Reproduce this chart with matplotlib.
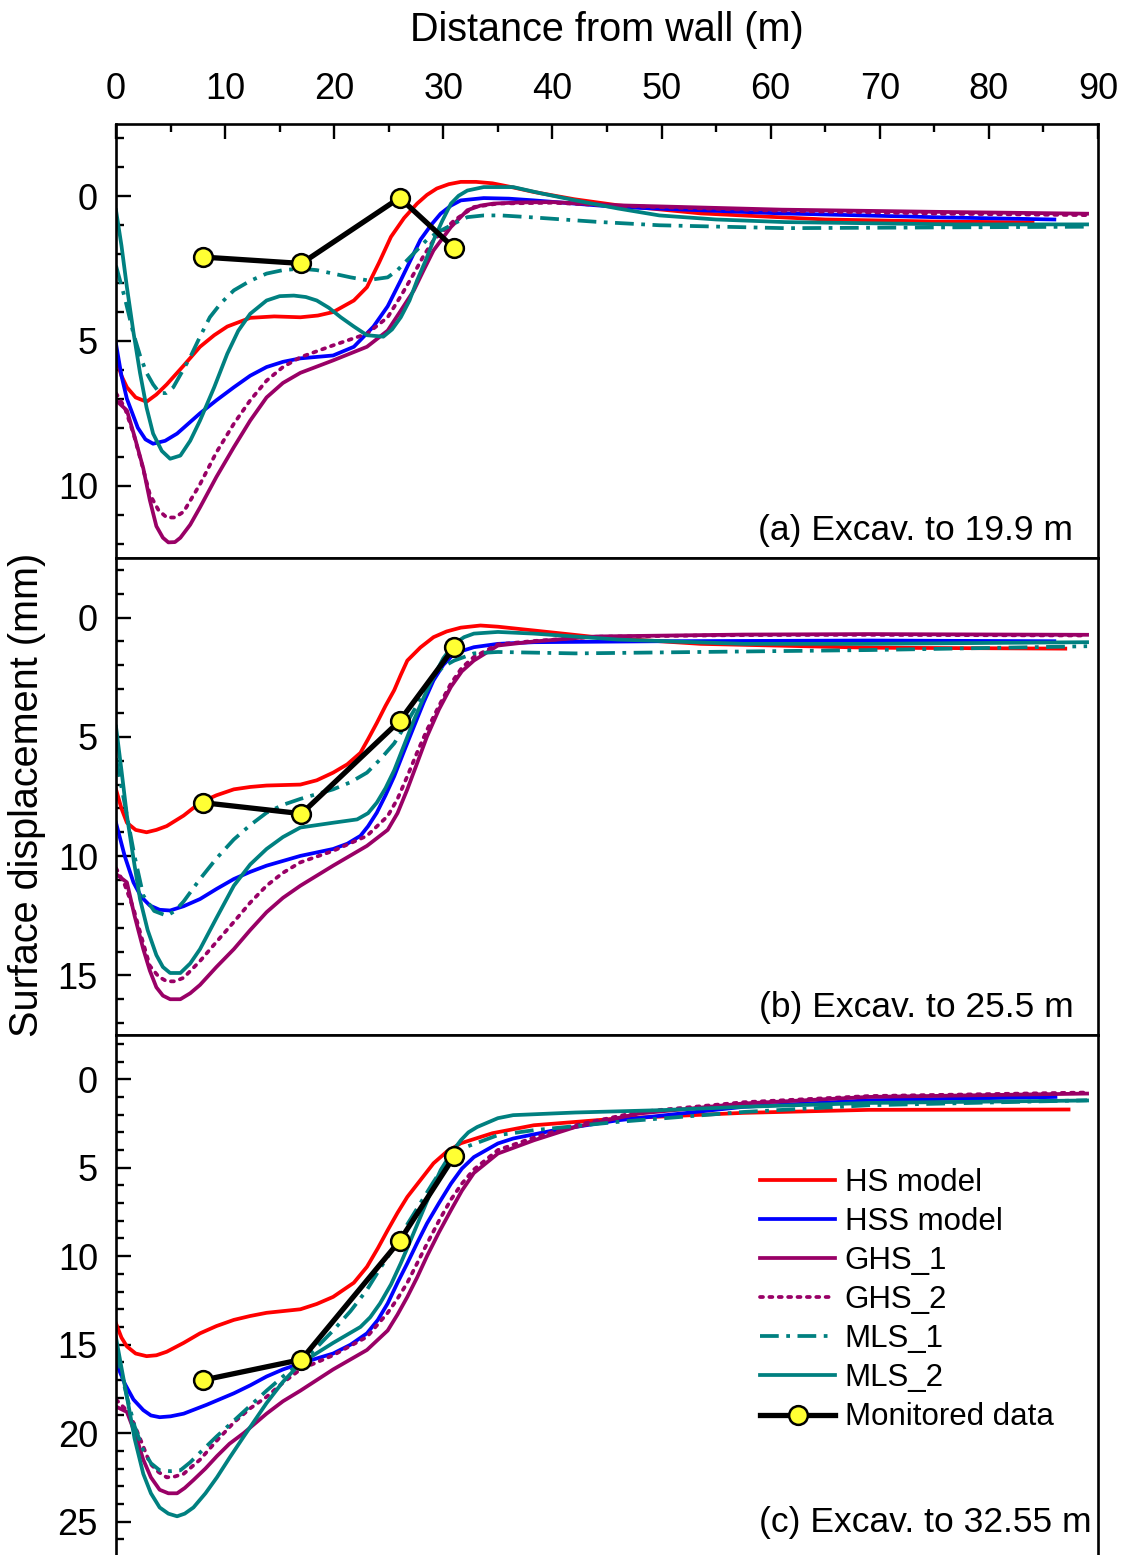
import matplotlib
matplotlib.use("Agg")
import matplotlib.pyplot as plt
from matplotlib.ticker import MultipleLocator

plt.rcParams['font.family'] = ['Liberation Sans', 'DejaVu Sans']

# ---------------- data: surface displacement (mm) vs distance from wall (m)
models = ["HS model", "HSS model", "GHS_1", "GHS_2", "MLS_1", "MLS_2"]

# (a) Excavation to 19.9 m
hs_a_x = [0, 0.5, 1, 1.8, 2.8, 3.7, 4.65, 6.2, 7.7, 9, 10.2, 12.3, 14.5, 16.9, 18.5, 19.9, 21.8, 23, 24.1, 25.2, 26.4, 27.6, 28.5, 29.4, 30.5, 31.6, 33, 34.5, 36.5, 38.3, 42, 46, 53.6, 65, 75, 84]
hs_a_y = [5.6, 6.2, 6.6, 6.95, 7.1, 6.85, 6.5, 5.85, 5.2, 4.8, 4.5, 4.2, 4.15, 4.18, 4.12, 4.0, 3.6, 3.14, 2.3, 1.4, 0.75, 0.25, -0.05, -0.27, -0.42, -0.5, -0.5, -0.45, -0.3, -0.15, 0.1, 0.31, 0.59, 0.8, 0.87, 0.9]
hss_a_x = [0, 0.5, 1, 2, 2.7, 3.4, 4.5, 5.6, 7.7, 9.2, 10.8, 12.3, 13.8, 15.3, 16.9, 19.9, 21.8, 23.6, 24.9, 26.1, 27.9, 28.9, 29.75, 30.7, 31.6, 33.7, 36, 38.3, 46, 61, 76, 86]
hss_a_y = [5.1, 6.2, 7.0, 8.0, 8.4, 8.55, 8.45, 8.2, 7.5, 7.05, 6.6, 6.2, 5.9, 5.72, 5.6, 5.5, 5.2, 4.5, 3.8, 2.9, 1.5, 0.98, 0.6, 0.32, 0.14, 0.06, 0.08, 0.14, 0.37, 0.59, 0.73, 0.8]
ghs1_a_x = [0, 1, 1.7, 2.5, 3.1, 3.7, 4.3, 4.8, 5.4, 5.9, 6.8, 7.7, 9.2, 10.8, 12.3, 13.8, 15.3, 16.9, 19.9, 23, 24.9, 26.1, 27.3, 28.2, 29.1, 30.7, 32.2, 33.4, 34.6, 37, 40, 46, 61, 76, 89]
ghs1_a_y = [7.05, 7.4, 8.3, 9.4, 10.5, 11.4, 11.8, 11.96, 11.95, 11.8, 11.35, 10.75, 9.7, 8.67, 7.75, 6.95, 6.45, 6.1, 5.67, 5.2, 4.64, 3.95, 3.25, 2.55, 1.87, 1.06, 0.48, 0.32, 0.25, 0.21, 0.2, 0.31, 0.46, 0.54, 0.6]
ghs2_a_x = [0, 0.8, 1.6, 2.4, 3.1, 3.9, 4.65, 5.4, 6.2, 7.7, 9.2, 10.8, 12.3, 13.8, 15.3, 16.9, 19.9, 23, 24.9, 26.1, 27.3, 28.2, 29.1, 31, 32.8, 35, 40, 46, 61, 76, 89]
ghs2_a_y = [6.8, 7.3, 8.2, 9.3, 10.3, 10.85, 11.1, 11.1, 10.9, 9.95, 8.85, 7.86, 7.05, 6.37, 5.9, 5.56, 5.15, 4.75, 4.18, 3.45, 2.67, 2.05, 1.52, 0.83, 0.37, 0.25, 0.22, 0.33, 0.5, 0.6, 0.65]
mls1_a_x = [0, 0.8, 1.6, 2.2, 2.8, 3.4, 4.0, 4.6, 5.25, 6.0, 6.8, 7.7, 8.6, 9.6, 10.8, 12.3, 13.8, 15.3, 16.9, 18.4, 19.9, 21.5, 23, 24.9, 25.8, 26.7, 27.6, 28.5, 29.4, 30.4, 31.3, 32.2, 33.7, 35.3, 38.3, 44, 49.8, 61.3, 89]
mls1_a_y = [2.4, 3.5, 4.75, 5.5, 6.1, 6.5, 6.8, 6.8, 6.6, 6.1, 5.56, 4.85, 4.18, 3.7, 3.25, 2.92, 2.67, 2.55, 2.5, 2.55, 2.67, 2.8, 2.9, 2.8, 2.55, 2.2, 1.85, 1.5, 1.26, 1.06, 0.88, 0.72, 0.66, 0.66, 0.73, 0.88, 1.0, 1.1, 1.05]
mls2_a_x = [0, 0.5, 1, 1.6, 2.2, 2.8, 3.4, 4.2, 4.96, 5.9, 6.8, 7.7, 9.0, 10.2, 11.2, 12.3, 13.8, 15.0, 16.3, 17.4, 18.4, 19.5, 20.6, 21.8, 23, 24.5, 25.3, 26.1, 26.9, 27.6, 28.4, 29.1, 29.9, 30.7, 31.4, 32.2, 33.7, 36.4, 39, 42.1, 46, 49.8, 55, 61.3, 76.6, 89]
mls2_a_y = [0.48, 1.7, 3.14, 4.7, 6.1, 7.3, 8.2, 8.8, 9.07, 8.96, 8.45, 7.75, 6.6, 5.44, 4.65, 4.06, 3.6, 3.45, 3.43, 3.48, 3.6, 3.85, 4.18, 4.5, 4.8, 4.85, 4.6, 4.18, 3.6, 2.9, 2.2, 1.52, 0.85, 0.25, -0.02, -0.2, -0.32, -0.32, -0.1, 0.14, 0.42, 0.66, 0.8, 0.89, 0.97, 0.97]

# (b) Excavation to 25.5 m
hs_b_x = [0, 0.5, 1, 1.8, 2.8, 3.7, 4.65, 6.2, 7.7, 9.2, 10.8, 12.3, 13.8, 16.9, 18.4, 19.9, 21.2, 22.4, 23.1, 23.9, 24.7, 25.5, 26.1, 26.7, 27.9, 29.1, 30.3, 31.6, 33.4, 35, 38.3, 44, 53.6, 69, 87]
hs_b_y = [7.2, 8.0, 8.6, 8.9, 9.0, 8.9, 8.74, 8.3, 7.76, 7.45, 7.2, 7.1, 7.04, 7.0, 6.82, 6.5, 6.15, 5.67, 5.1, 4.42, 3.7, 3.04, 2.4, 1.8, 1.25, 0.82, 0.58, 0.42, 0.33, 0.38, 0.54, 0.82, 1.1, 1.26, 1.3]
hss_b_x = [0, 0.8, 1.6, 2.3, 3.1, 4.0, 4.96, 6.2, 7.7, 9.2, 10.8, 12.3, 13.8, 16.9, 19.9, 21.2, 22.4, 23.1, 23.9, 24.7, 25.5, 26.4, 27.3, 28.2, 29.1, 30.0, 31, 32.8, 35, 38.3, 49.8, 69, 86]
hss_b_y = [8.6, 10.0, 11.1, 11.7, 12.07, 12.25, 12.28, 12.1, 11.8, 11.38, 10.96, 10.66, 10.4, 9.99, 9.7, 9.48, 9.15, 8.75, 8.18, 7.45, 6.65, 5.6, 4.57, 3.55, 2.63, 1.98, 1.5, 1.24, 1.1, 1.03, 0.99, 0.96, 0.99]
ghs1_b_x = [0, 1, 1.7, 2.5, 3.1, 3.7, 4.3, 4.96, 5.9, 6.8, 7.7, 9.2, 10.8, 12.3, 13.8, 15.3, 16.9, 19.9, 23, 24.9, 25.8, 26.7, 27.6, 28.5, 29.6, 30.7, 31.7, 32.8, 35, 38.3, 44, 57.5, 69, 89]
ghs1_b_y = [10.75, 11.1, 12.5, 13.9, 14.8, 15.5, 15.85, 16.0, 16.0, 15.75, 15.4, 14.65, 13.9, 13.1, 12.35, 11.75, 11.24, 10.4, 9.57, 8.9, 8.2, 7.2, 6.1, 4.99, 3.85, 2.9, 2.25, 1.8, 1.17, 1.0, 0.79, 0.71, 0.69, 0.72]
ghs2_b_x = [0, 0.8, 1.6, 2.4, 3.1, 3.9, 4.65, 5.4, 6.2, 7.7, 9.2, 10.8, 12.3, 13.8, 15.3, 16.9, 19.9, 23, 24.9, 25.8, 26.7, 27.6, 28.5, 29.6, 30.7, 31.7, 32.8, 35, 38.3, 44, 57.5, 69, 89]
ghs2_b_y = [10.5, 11.2, 12.2, 13.5, 14.6, 15.05, 15.25, 15.25, 15.1, 14.4, 13.6, 12.76, 11.95, 11.24, 10.7, 10.26, 9.78, 9.15, 8.32, 7.6, 6.65, 5.65, 4.71, 3.7, 2.76, 2.1, 1.65, 1.12, 0.98, 0.8, 0.73, 0.72, 0.75]
mls1_b_x = [0, 0.5, 1, 1.7, 2.5, 3.5, 4.65, 5.4, 6.2, 7.7, 9.2, 10.8, 12.3, 13.8, 15.3, 16.9, 19.9, 21.5, 23, 24.2, 25.5, 26.4, 27.3, 28.2, 29.1, 30, 31, 32.8, 35, 42.1, 53.6, 69, 89]
mls1_b_y = [5.9, 7.1, 8.3, 10.0, 11.65, 12.3, 12.5, 12.3, 11.9, 10.96, 10.1, 9.3, 8.7, 8.18, 7.85, 7.6, 7.2, 6.9, 6.5, 5.95, 5.27, 4.6, 3.9, 3.15, 2.49, 2.05, 1.8, 1.5, 1.44, 1.5, 1.44, 1.36, 1.2]
mls2_b_x = [0, 0.5, 1, 1.6, 2.2, 2.9, 3.7, 4.3, 4.96, 5.9, 6.8, 7.7, 9.2, 10.8, 12.3, 13.8, 15.3, 16.9, 19.9, 22.1, 23.1, 23.9, 24.7, 25.5, 26.4, 27.3, 28.2, 29.1, 30.0, 31, 31.9, 32.8, 35, 38.3, 46, 57.5, 69, 89]
mls2_b_y = [4.57, 6.4, 8.3, 10.1, 11.8, 13.1, 14.15, 14.65, 14.9, 14.9, 14.5, 13.9, 12.6, 11.24, 10.35, 9.7, 9.2, 8.8, 8.6, 8.46, 8.2, 7.76, 7.15, 6.4, 5.35, 4.3, 3.35, 2.49, 1.7, 1.1, 0.82, 0.67, 0.6, 0.67, 0.92, 1.1, 1.1, 1.03]

# (c) Excavation to 32.55 m
hs_c_x = [0, 0.5, 1, 1.8, 2.8, 3.7, 4.65, 6.2, 7.7, 9.2, 10.8, 12.3, 13.8, 16.9, 18.4, 19.9, 21.8, 23, 24, 24.9, 25.8, 26.7, 27.9, 29.1, 30.3, 31.6, 34.5, 38.3, 46, 57.5, 69, 87.3]
hs_c_y = [13.8, 14.6, 15.1, 15.5, 15.65, 15.6, 15.4, 14.9, 14.36, 13.95, 13.6, 13.38, 13.2, 13.0, 12.7, 12.3, 11.5, 10.6, 9.55, 8.53, 7.55, 6.65, 5.7, 4.75, 4.1, 3.62, 3.05, 2.6, 2.22, 1.9, 1.73, 1.71]
hss_c_x = [0, 0.8, 1.6, 2.5, 3.2, 4.0, 5.0, 6.2, 8.3, 10.8, 12.3, 13.8, 15.3, 16.9, 19.9, 21.5, 23, 24, 24.9, 25.8, 26.7, 27.6, 28.5, 29.6, 30.7, 31.7, 32.8, 35, 36.4, 40.2, 46, 57.5, 69, 86.1]
hss_c_y = [16.0, 17.2, 18.1, 18.7, 19.0, 19.1, 19.05, 18.9, 18.4, 17.75, 17.3, 16.8, 16.4, 16.06, 15.5, 15.0, 14.36, 13.6, 12.67, 11.5, 10.4, 9.25, 8.15, 7.0, 5.9, 5.05, 4.4, 3.63, 3.35, 2.88, 2.32, 1.56, 1.19, 1.0]
ghs1_c_x = [0, 1, 1.8, 2.5, 3.2, 4.0, 4.8, 5.6, 6.3, 7.1, 8.2, 9.25, 10.4, 11.7, 13.8, 15.3, 16.9, 19.9, 23, 24.9, 25.8, 26.7, 27.6, 28.5, 29.6, 30.7, 31.7, 32.8, 35, 38.3, 42.1, 47.9, 57.5, 69, 89]
ghs1_c_y = [18.5, 18.8, 20.1, 21.5, 22.5, 23.2, 23.4, 23.4, 23.1, 22.65, 22.0, 21.3, 20.6, 20.0, 18.9, 18.2, 17.6, 16.4, 15.3, 14.2, 13.3, 12.3, 11.2, 10.0, 8.65, 7.4, 6.3, 5.3, 4.2, 3.45, 2.7, 1.94, 1.37, 1.0, 0.81]
ghs2_c_x = [0, 0.8, 1.6, 2.4, 3.1, 3.9, 4.65, 5.4, 6.2, 7.7, 9.2, 10.8, 12.3, 13.8, 15.3, 16.9, 19.9, 23, 24.9, 25.8, 26.7, 27.6, 28.5, 29.6, 30.7, 31.7, 32.8, 35, 38.3, 42.1, 47.9, 57.5, 69, 89]
ghs2_c_y = [18.1, 18.6, 19.4, 20.6, 21.7, 22.2, 22.5, 22.45, 22.3, 21.5, 20.45, 19.4, 18.6, 17.95, 17.15, 16.4, 15.6, 14.56, 13.2, 12.4, 11.5, 10.4, 9.3, 8.0, 6.8, 5.9, 5.1, 4.0, 3.3, 2.6, 1.85, 1.3, 0.95, 0.75]
mls1_c_x = [0, 0.5, 1, 1.7, 2.5, 3.2, 4.0, 5.0, 5.9, 6.8, 7.7, 9.2, 10.8, 12.3, 13.8, 15.3, 16.9, 18.4, 19.9, 21.5, 23, 24.2, 25.5, 26.7, 27.9, 29, 30, 31.1, 32.2, 35, 38.3, 46, 57.5, 69, 89]
mls1_c_y = [15.3, 16.6, 17.95, 19.6, 20.96, 21.7, 22.1, 22.15, 22.1, 21.65, 21.1, 20.2, 19.3, 18.45, 17.6, 16.8, 16.06, 15.15, 14.2, 13.1, 11.9, 10.7, 9.47, 8.2, 7.0, 5.9, 4.95, 4.3, 3.8, 3.16, 2.88, 2.41, 1.85, 1.47, 1.19]
mls2_c_x = [0, 0.5, 1, 1.7, 2.5, 3.2, 4.0, 4.8, 5.6, 6.3, 7.1, 8.2, 9.25, 10.4, 11.7, 13.8, 15.3, 16.9, 19.9, 22.4, 23.3, 24.2, 25.2, 26.1, 27, 27.9, 28.8, 29.75, 30.7, 31.6, 32.3, 33.1, 35, 36.4, 42.1, 49.8, 57.5, 69, 89]
mls2_c_y = [14.6, 16.3, 17.95, 20.3, 22.3, 23.4, 24.2, 24.55, 24.7, 24.55, 24.2, 23.4, 22.5, 21.4, 20.2, 18.3, 17.1, 16.06, 14.9, 14.0, 13.45, 12.67, 11.6, 10.4, 9.1, 7.78, 6.45, 5.14, 4.2, 3.45, 3.0, 2.7, 2.2, 2.03, 1.88, 1.75, 1.56, 1.34, 1.2]

# monitored settlement points
mon_x = [8, 17, 26, 31]
mon_a = [2.1, 2.32, 0.05, 1.79]
mon_b = [7.76, 8.22, 4.33, 1.24]
mon_c = [17.0, 15.84, 9.13, 4.35]

panel_titles = ["(a) Excav. to 19.9 m", "(b) Excav. to 25.5 m", "(c) Excav. to 32.55 m"]
y_limits = [(12.5, -2.5), (17.5, -2.5), (27.0, -2.5)]

# ---------------- styles
RED = "#ff0000"
BLUE = "#0000ff"
PURPLE = "#990066"
TEAL = "#008080"
LW = 2.7
styles = [
    dict(color=RED, lw=LW, ls="-"),
    dict(color=BLUE, lw=LW, ls="-"),
    dict(color=PURPLE, lw=LW, ls="-"),
    dict(color=PURPLE, lw=LW, ls=(0, (0.8, 1.7)), dash_capstyle="round"),
    dict(color=TEAL, lw=LW, ls=(0, (5, 2, 1, 2))),
    dict(color=TEAL, lw=LW, ls="-"),
]

panels = [
    [(hs_a_x, hs_a_y), (hss_a_x, hss_a_y), (ghs1_a_x, ghs1_a_y), (ghs2_a_x, ghs2_a_y), (mls1_a_x, mls1_a_y), (mls2_a_x, mls2_a_y)],
    [(hs_b_x, hs_b_y), (hss_b_x, hss_b_y), (ghs1_b_x, ghs1_b_y), (ghs2_b_x, ghs2_b_y), (mls1_b_x, mls1_b_y), (mls2_b_x, mls2_b_y)],
    [(hs_c_x, hs_c_y), (hss_c_x, hss_c_y), (ghs1_c_x, ghs1_c_y), (ghs2_c_x, ghs2_c_y), (mls1_c_x, mls1_c_y), (mls2_c_x, mls2_c_y)],
]
monitored = [mon_a, mon_b, mon_c]

W, H = 1122, 1555
fig = plt.figure(figsize=(W / 100, H / 100), dpi=100)

left, right = 116 / W, 1098 / W
edges_px = [124, 558, 1035, 1557]
axes = []
for i in range(3):
    top = 1 - edges_px[i] / H
    bot = 1 - edges_px[i + 1] / H
    ax = fig.add_axes([left, bot, right - left, top - bot])
    axes.append(ax)

TICK_FS = 26
for i, ax in enumerate(axes):
    for (x, y), name, st in zip(panels[i], models, styles):
        ax.plot(x, y, label=name, solid_joinstyle="round", **st)
    ax.plot(mon_x, monitored[i], color="black", lw=3.8, marker="o", ms=13.5,
            mfc="#ffff33", mec="black", mew=1.8, label="Monitored data", zorder=5)

    ax.set_xlim(0, 90)
    ax.set_ylim(*y_limits[i])
    ax.yaxis.set_major_locator(MultipleLocator(5))
    ax.yaxis.set_minor_locator(MultipleLocator(1))
    ax.tick_params(axis="y", which="both", direction="in", left=True, right=False,
                   labelsize=TICK_FS, pad=13, width=1.7)
    ax.tick_params(axis="y", which="major", length=11)
    ax.tick_params(axis="y", which="minor", length=6)
    for sp in ax.spines.values():
        sp.set_linewidth(1.9)

    if i == 0:
        ax.xaxis.set_major_locator(MultipleLocator(10))
        ax.xaxis.set_minor_locator(MultipleLocator(5))
        ax.tick_params(axis="x", which="both", direction="in", top=True, bottom=False,
                       labeltop=True, labelbottom=False, labelsize=TICK_FS, pad=12.5, width=1.7)
        ax.tick_params(axis="x", which="major", length=11)
        ax.tick_params(axis="x", which="minor", length=6)
    else:
        ax.tick_params(axis="x", which="both", top=False, bottom=False,
                       labeltop=False, labelbottom=False)

    ax.spines["bottom"].set_visible(i < 2)

PANEL_FS = 25.5
axes[0].text(0.975, 0.063, panel_titles[0], transform=axes[0].transAxes,
             ha="right", va="center", fontsize=PANEL_FS)
axes[1].text(0.975, 0.058, panel_titles[1], transform=axes[1].transAxes,
             ha="right", va="center", fontsize=PANEL_FS)
axes[2].text(0.993, 0.067, panel_titles[2], transform=axes[2].transAxes,
             ha="right", va="center", fontsize=PANEL_FS)

fig.text(607 / W, 1 - 30 / H, "Distance from wall (m)", ha="center", va="center", fontsize=28.5)
fig.text(27 / W, 1 - 795 / H, "Surface displacement (mm)", ha="center", va="center",
         rotation=90, fontsize=28.5)

axes[2].legend(loc="upper left", bbox_to_anchor=(0.656, 0.745), frameon=False,
               fontsize=22.5, handlelength=2.4, handletextpad=0.3, labelspacing=0.29,
               borderpad=0, borderaxespad=0)

fig.savefig("out.png", dpi=100)
